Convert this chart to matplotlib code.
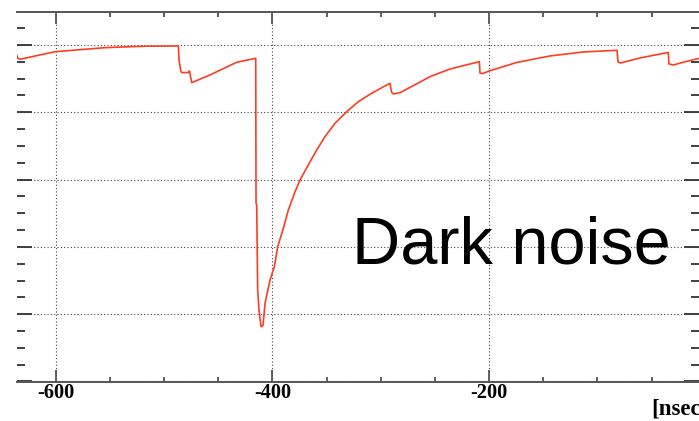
import numpy as np
import matplotlib
matplotlib.use("Agg")
import matplotlib.pyplot as plt
from matplotlib.ticker import MultipleLocator, NullFormatter

plt.rcParams["axes.unicode_minus"] = False

# waveform (time in nsec, amplitude in major-grid units)
t = [-636.0, -634.8, -632.9, -600.6, -554.5, -519.4, -488.3, -486.8, -486.2, -484.8, -483.7,
     -477.6, -476.5, -474.5, -457.6, -433.0, -415.4, -415.1, -414.5, -413.6, -412.4, -410.5,
     -408.7, -406.8, -402.2, -398.2, -395.1, -389.9, -385.3, -379.1, -374.5, -366.9, -359.1,
     -351.5, -342.2, -331.4, -320.7, -308.4, -291.5, -290.0, -288.4, -282.2, -254.5, -236.1,
     -209.0, -208.4, -206.1, -199.2, -174.5, -143.8, -113.1, -94.6, -81.9, -81.0, -78.7,
     -60.7, -34.6, -34.0, -29.8, -20.8, -6.7, 0.0]
amp = [-0.149, -0.200, -0.212, -0.100, -0.040, -0.019, -0.015, -0.015, -0.220, -0.370, -0.410,
       -0.410, -0.386, -0.560, -0.446, -0.257, -0.198, -2.352, -2.377, -3.640, -3.938, -4.186,
       -4.171, -3.838, -3.492, -3.294, -2.997, -2.724, -2.452, -2.180, -2.006, -1.783, -1.560,
       -1.363, -1.163, -0.991, -0.842, -0.718, -0.569, -0.700, -0.728, -0.709, -0.471, -0.357,
       -0.248, -0.416, -0.426, -0.382, -0.260, -0.163, -0.104, -0.089, -0.079, -0.253, -0.267,
       -0.193, -0.111, -0.282, -0.297, -0.257, -0.200, -0.190]

fig = plt.figure(figsize=(6.99, 4.21), dpi=100)
ax = fig.add_axes([0.0239, 0.0934, 0.9768, 0.8781])

ax.plot(t, amp, color="#ff3d22", lw=1.2)

ax.set_xlim(-636.0, -5.8)
ax.set_ylim(-5.003, 0.49)

ax.xaxis.set_major_locator(MultipleLocator(200))
ax.xaxis.set_minor_locator(MultipleLocator(50))
ax.yaxis.set_major_locator(MultipleLocator(1))
ax.yaxis.set_minor_locator(MultipleLocator(0.25))
ax.yaxis.set_major_formatter(NullFormatter())

ax.grid(True, which="major", linestyle=(0, (1, 2)), color="#444444", lw=0.8)

for side in ["left", "right"]:
    ax.spines[side].set_visible(False)
for side in ["top", "bottom"]:
    ax.spines[side].set_color("#555555")
    ax.spines[side].set_linewidth(1.4)

ax.tick_params(axis="x", which="both", direction="in", top=True, bottom=True,
               color="#555555", width=1.3, pad=1)
ax.tick_params(axis="x", which="major", length=8.5)
ax.tick_params(axis="x", which="minor", length=3.6)
ax.tick_params(axis="y", which="both", direction="in", left=True, right=True,
               color="#333333", width=1.3)
ax.tick_params(axis="y", which="major", length=11)
ax.tick_params(axis="y", which="minor", length=5.8)

for lab in ax.get_xticklabels():
    lab.set_family("Liberation Serif")
    lab.set_fontweight("bold")
    lab.set_fontsize(14.7)

# axis title sits at the right edge and is cut by the frame, as in the reference
fig.text(0.9323, 1 - 415 / 421, "[nsec]", family="Liberation Serif",
         fontweight="bold", fontsize=16.5, ha="left", va="baseline")
fig.text(0.5036, 1 - 264 / 421, "Dark noise", family="Liberation Sans",
         fontsize=48, ha="left", va="baseline")

fig.savefig("out.png", dpi=100)
